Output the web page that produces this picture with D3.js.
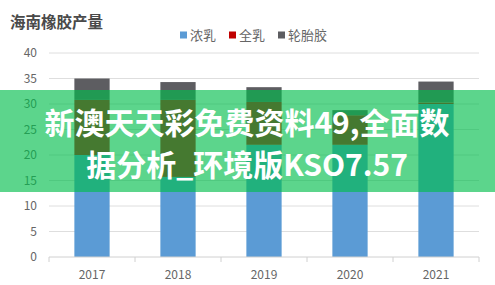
<!DOCTYPE html>
<html><head><meta charset="utf-8">
<script src="https://cdn.jsdelivr.net/npm/d3@7"></script>
<style>
html,body{margin:0;padding:0;background:#fff;}
svg{display:block;font-family:"Noto Sans CJK SC","Noto Sans",sans-serif;}
</style></head>
<body>
<svg id="c" width="495" height="285"></svg>
<script>
const years = ["2017","2018","2019","2020","2021"];
const latex = [20, 15.7, 22, 22, 30];      // 浓乳
const wholeMilk = [10.8, 15.1, 8.4, 5.8, 0.3]; // 全乳
const tireRubber = [4.2, 3.5, 2.9, 1.0, 4.1];  // 轮胎胶
const seriesNames = ["浓乳","全乳","轮胎胶"];
const seriesColors = ["#5b9bd5","#c00000","#5d5d61"];
const yTicks = [0,5,10,15,20,25,30,35,40];
const title = "海南橡胶产量";
const overlayLines = ["新澳天天彩免费资料49,全面数","据分析_环境版KSO7.57"];

const svg = d3.select("#c");
const m = {l:49, r:16, t:53, b:28};
const W = 495, H = 285;
const x = d3.scaleBand().domain(years).range([m.l, W - m.r]).padding(0);
const y = d3.scaleLinear().domain([0,40]).range([H - m.b, m.t]);

// gridlines
svg.append("g").selectAll("line").data(yTicks.filter(d=>d>0)).join("line")
  .attr("x1", m.l).attr("x2", W - m.r)
  .attr("y1", d=>y(d)).attr("y2", d=>y(d))
  .attr("stroke", "#dedede").attr("stroke-width", 1);

// y labels
svg.append("g").selectAll("text").data(yTicks).join("text")
  .attr("x", 37).attr("y", d=>y(d)).attr("dy","0.35em")
  .attr("text-anchor","end").attr("font-size", 12).attr("fill","#666")
  .text(d=>d);

// stacked bars
const rows = years.map((yr,i)=>({year:yr, "浓乳":latex[i], "全乳":wholeMilk[i], "轮胎胶":tireRubber[i]}));
const stack = d3.stack().keys(seriesNames)(rows);
const bw = x.bandwidth()*0.41;
svg.append("g").selectAll("g").data(stack).join("g")
  .attr("fill", (d,i)=>seriesColors[i])
  .selectAll("rect").data(d=>d).join("rect")
  .attr("x", d=>x(d.data.year) + (x.bandwidth()-bw)/2)
  .attr("width", bw)
  .attr("y", d=>y(d[1]))
  .attr("height", d=>y(d[0]) - y(d[1]));

// x axis
const xa = svg.append("g").attr("transform", `translate(0,${y(0)})`);
xa.append("line").attr("x1", m.l).attr("x2", W - m.r).attr("stroke","#d0d0d0");
const bounds = years.map(d=>x(d)).concat([x(years[years.length-1]) + x.bandwidth()]);
xa.selectAll("line.t").data(bounds).join("line").attr("class","t")
  .attr("x1", d=>d).attr("x2", d=>d).attr("y1",0).attr("y2",5).attr("stroke","#d0d0d0");
xa.selectAll("text").data(years).join("text")
  .attr("x", d=>x(d)+x.bandwidth()/2).attr("y", 22)
  .attr("text-anchor","middle").attr("font-size",12).attr("fill","#666")
  .text(d=>d);

// title
svg.append("text").attr("x",10).attr("y",28).attr("font-size",15.5).attr("font-weight",700)
  .attr("fill","#4a4a4a").text(title);

// legend
const lgX = [180, 229, 278];
const lg = svg.append("g").selectAll("g").data(seriesNames).join("g")
  .attr("transform",(d,i)=>`translate(${lgX[i]},35)`);
lg.append("rect").attr("x",0).attr("y",-3.5).attr("width",7).attr("height",7).attr("fill",(d,i)=>seriesColors[i]);
lg.append("text").attr("x",10).attr("dy","0.35em").attr("font-size",13).attr("fill","#666").text(d=>d);

// overlay band
svg.append("rect").attr("x",0).attr("y",90).attr("width",W).attr("height",102)
  .attr("fill","rgb(0,190,75)").attr("fill-opacity",0.64);
svg.append("g").selectAll("text").data(overlayLines).join("text")
  .attr("x", 247).attr("y",(d,i)=>134 + i*42)
  .attr("text-anchor","middle").attr("font-size",30).attr("font-weight",700)
  .attr("fill","#fff").text(d=>d);
</script>
</body></html>
